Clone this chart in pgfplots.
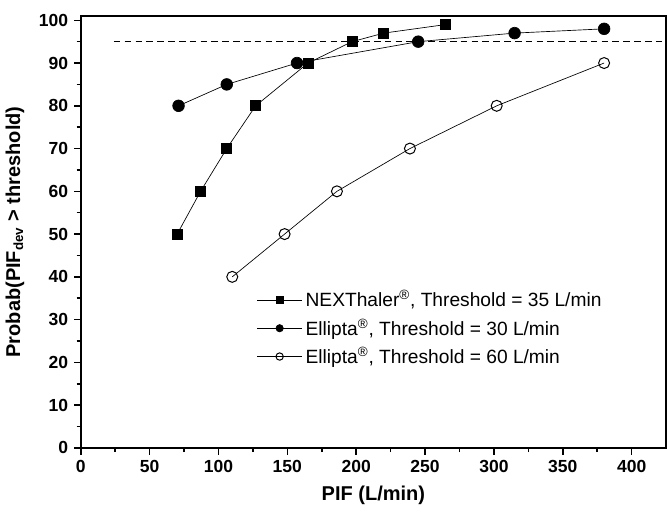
\documentclass[border=0pt]{standalone}
\usepackage{fontspec}
\setmainfont{Liberation Sans}
\usepackage{pgfplots}
\pgfplotsset{compat=1.18}

\begin{document}
\begin{tikzpicture}
\begin{axis}[
    scale only axis,
    width=351pt, height=259pt,
    xmin=0, xmax=425, ymin=0, ymax=101,
    xtick={0,50,...,400}, ytick={0,10,...,100},
    minor x tick num=1, minor y tick num=1,
    tick align=outside,
    xtick pos=bottom, ytick pos=left,
    major tick length=4pt, minor tick length=2.5pt,
    axis line style={line width=1.1pt},
    every tick/.style={black, line width=0.9pt},
    /pgf/number format/assume math mode=true,
    ticklabel style={font=\bfseries\fontsize{10.5}{12}\selectfont},
    xlabel={\bfseries PIF (L/min)},
    ylabel={\bfseries Probab(PIF\textsubscript{dev} > threshold)},
    label style={font=\bfseries\fontsize{12}{14}\selectfont},
    xlabel style={yshift=-1pt},
    ylabel style={yshift=2pt},
    legend style={draw=none, fill=none, at={(0.292,0.381)}, anchor=north west,
        font=\fontsize{11.5}{13}\selectfont, row sep=1.5pt},
    legend cell align=left,
    legend image code/.code={
        \draw[mark repeat=2, mark phase=2, #1, mark size=2.2pt]
        plot coordinates {(0cm,0cm) (0.47cm,0cm) (0.94cm,0cm)};
    },
]
\addplot[black, thin, mark=square*, mark size=3pt, mark options={solid, fill=black}]
coordinates {(70,50) (87,60) (106,70) (127,80) (165,90) (197,95) (220,97) (265,99)};
\addlegendentry{NEXThaler\textsuperscript{®}, Threshold = 35 L/min}
\addplot[black, thin, mark=*, mark size=3.5pt, mark options={solid, fill=black}]
coordinates {(71,80) (106,85) (157,90) (245,95) (315,97) (380,98)};
\addlegendentry{Ellipta\textsuperscript{®}, Threshold = 30 L/min}
\addplot[black, thin, mark=o, mark size=3.3pt, mark options={solid, fill=white, line width=0.6pt}]
coordinates {(110,40) (148,50) (186,60) (239,70) (302,80) (380,90)};
\addlegendentry{Ellipta\textsuperscript{®}, Threshold = 60 L/min}
\addplot[black, thin, dash pattern=on 4pt off 2.5pt, forget plot] coordinates {(24,95) (425,95)};
\end{axis}
\path (current axis.north west) ++(0,9.6pt);
\path (current axis.south west) ++(0,-38.5pt);
\end{tikzpicture}
\end{document}
